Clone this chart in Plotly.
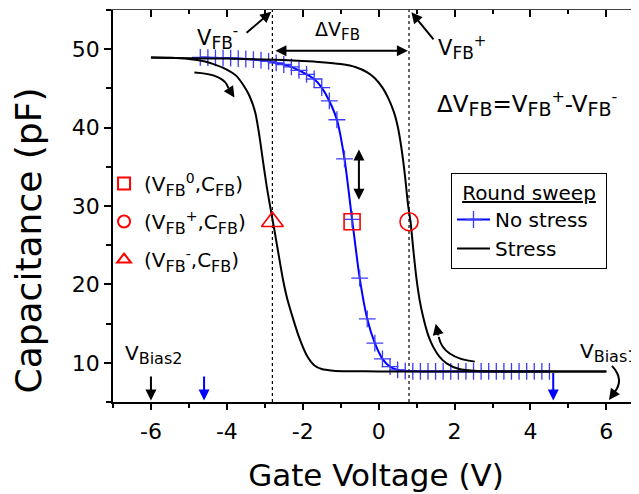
import plotly.graph_objects as go

# ---------------- data ----------------
BLUE_V = [-4.7, -4.5, -4.3, -4.1, -3.9, -3.7, -3.5, -3.3, -3.1, -2.9, -2.7, -2.5,
          -2.3, -2.1, -1.9, -1.7, -1.5, -1.3, -1.1, -0.9, -0.7, -0.5, -0.3, -0.1,
          0.1, 0.3, 0.5, 0.7, 0.9, 1.1, 1.3, 1.5, 1.7, 1.9, 2.1, 2.3, 2.5, 2.7, 2.9,
          3.1, 3.3, 3.5, 3.7, 3.9, 4.1, 4.3, 4.5]
BLUE_C = [48.95, 48.93, 48.9, 48.88, 48.85, 48.8, 48.75, 48.68, 48.6, 48.45, 48.25, 48.05,
          47.75, 47.3, 46.8, 46.2, 45.1, 43.4, 41.0, 36.0, 28.3, 20.8, 15.6, 12.5,
          10.5, 9.5, 9.1, 8.95, 8.92, 8.9, 8.9, 8.9, 8.9, 8.9, 8.9, 8.9, 8.9, 8.9, 8.9,
          8.9, 8.9, 8.9, 8.9, 8.9, 8.9, 8.9, 8.9]

STRESS_FWD_V = [-6.0, -5.5, -5.0, -4.6, -4.35, -4.0, -3.75, -3.55, -3.4, -3.25, -3.15, -3.05,
                -2.95, -2.85, -2.75, -2.65, -2.52, -2.4, -2.26, -2.1, -1.9, -1.7, -1.5, -1.2,
                -0.8, 0.0, 2.0, 4.0, 6.0]
STRESS_FWD_C = [48.95, 48.9, 48.75, 48.45, 48.1, 47.4, 46.6, 45.3, 44.0, 41.9, 39.2, 35.8,
                32.5, 29.7, 27.0, 24.2, 20.6, 18.0, 15.7, 13.3, 11.0, 9.7, 9.2, 9.0,
                8.93, 8.9, 8.9, 8.9, 8.9]

STRESS_REV_V = [-6.0, -5.0, -4.0, -3.0, -2.0, -1.5, -1.0, -0.6, -0.3, -0.1, 0.1, 0.25,
                0.4, 0.5, 0.6, 0.7, 0.77, 0.84, 0.92, 1.0, 1.08, 1.17, 1.3, 1.43,
                1.6, 1.8, 2.1, 2.6, 3.5, 6.0]
STRESS_REV_C = [48.95, 48.85, 48.8, 48.7, 48.5, 48.35, 48.1, 47.7, 47.05, 46.3, 45.1, 43.8,
                42.0, 40.2, 37.4, 33.6, 30.3, 28.0, 24.1, 20.6, 18.0, 15.9, 13.6, 12.1,
                10.8, 9.9, 9.25, 8.95, 8.9, 8.9]

VFB_MINUS = -2.8
VFB_PLUS = 0.8
VFB_ZERO = -0.7
C_FB = 28.0
V_BIAS1 = 6.0
V_BIAS2 = -6.0
V_BLUE_START = -4.6
V_BLUE_END = 4.6

X_TICKS = [-6, -4, -2, 0, 2, 4, 6]
X_TICK_LABELS = ["-6", "-4", "-2", "0", "2", "4", "6"]
X_MINOR = [-7, -5, -3, -1, 1, 3, 5]
Y_TICKS = [10, 20, 30, 40, 50]
Y_TICK_LABELS = ["10", "20", "30", "40", "50"]
Y_MINOR = [5, 15, 25, 35, 45, 55]
X_RANGE = [-7, 6.86]
Y_RANGE = [5, 55]

X_TITLE = "Gate Voltage (V)"
Y_TITLE = "Capacitance (pF)"

FONT = "DejaVu Sans"


def sub(s, px):
    return f"<sub><span style='font-size:{px}px'>{s}</span></sub>"


def sup(s, px):
    return f"<sup><span style='font-size:{px}px'>{s}</span></sup>"


fig = go.Figure()

fig.add_trace(go.Scatter(
    x=BLUE_V, y=BLUE_C, mode="lines+markers", name="No stress\u00a0\u00a0",
    line=dict(color="#0000ff", width=2, shape="spline", smoothing=0.6),
    marker=dict(symbol="cross-thin", size=12, line=dict(color="#3b3bff", width=1.3)),
    legend="legend"))
fig.add_trace(go.Scatter(
    x=STRESS_FWD_V, y=STRESS_FWD_C, mode="lines", name="Stress",
    line=dict(color="black", width=2, shape="spline", smoothing=0.6), legend="legend"))
fig.add_trace(go.Scatter(
    x=STRESS_REV_V, y=STRESS_REV_C, mode="lines", name="Stress (reverse)", showlegend=False,
    line=dict(color="black", width=2, shape="spline", smoothing=0.6)))

marker_items = [
    ("(V" + sub("FB", 16) + sup("0", 14) + ",C" + sub("FB", 16) + ")", VFB_ZERO, "square-open", 16),
    ("(V" + sub("FB", 16) + sup("+", 14) + ",C" + sub("FB", 16) + ")", VFB_PLUS, "circle-open", 18),
    ("(V" + sub("FB", 16) + sup("-", 14) + ",C" + sub("FB", 16) + ")", VFB_MINUS, "triangle-up-open", 19),
]
for name, xv, sym, size in marker_items:
    fig.add_trace(go.Scatter(
        x=[xv], y=[C_FB], mode="markers", name=name, legend="legend2", legendgroup=sym,
        marker=dict(symbol=sym, size=size, color="red", line=dict(color="red", width=1.6))))

# helper trace for mirrored inner ticks
fig.add_trace(go.Scatter(x=[], y=[], xaxis="x2", yaxis="y2", showlegend=False, hoverinfo="skip"))

# dotted flat-band lines
for v in (VFB_MINUS, VFB_PLUS):
    fig.add_shape(type="line", xref="x", yref="paper", x0=v, x1=v, y0=0, y1=1,
                  line=dict(color="black", width=1.2, dash="dot"), layer="below")


def arrow(x, y, ax, ay, color="black", side="end", size=1.1, width=2):
    return dict(x=x, y=y, ax=ax, ay=ay, xref="x", yref="y", axref="x", ayref="y",
                text="", showarrow=True, arrowhead=2, startarrowhead=2, arrowside=side,
                arrowsize=size, startarrowsize=size, arrowwidth=width, arrowcolor=color)


annotations = [
    arrow(-2.83, 54.78, -3.52, 51.93),
    arrow(0.863, 54.7, 1.478, 51.07),
    arrow(VFB_PLUS - 0.03, 49.8, VFB_MINUS + 0.04, 49.8, side="end+start"),
    arrow(-0.52, 30.8, -0.52, 37.4, side="end+start"),
    arrow(V_BIAS2, 5.2, V_BIAS2, 8.45, size=1.1),
    arrow(V_BLUE_START, 5.2, V_BLUE_START, 8.45, color="#0000ff", size=1.1),
    arrow(V_BLUE_END, 5.2, V_BLUE_END, 8.9, color="#0000ff", size=1.1),
    arrow(-3.80, 43.85, -3.958, 45.03),
    arrow(1.504, 14.97, 1.583, 13.31),
    arrow(6.069, 5.26, 6.201, 6.15),
]

texts = [
    ("V" + sub("FB", 17) + sup("-", 15), -4.25, 51.5, "center"),
    ("ΔV" + sub("FB", 15), -1.08, 52.3, "center"),
    ("V" + sub("FB", 17) + sup("+", 15), 2.19, 50.27, "center"),
    ("ΔV" + sub("FB", 19) + "=V" + sub("FB", 19) + sup("+", 16) + "-V" + sub("FB", 19) + sup("-", 16),
     3.9, 43.1, "center"),
    ("V" + sub("Bias2", 16), -5.94, 11.0, "center"),
    ("V" + sub("Bias1", 16), 5.25, 11.27, "left"),
]
text_sizes = [21, 19, 21, 23, 20, 20]
for (t, x, y, anc), fs in zip(texts, text_sizes):
    annotations.append(dict(x=x, y=y, xref="x", yref="y", text=t, showarrow=False,
                            xanchor=anc, yanchor="middle",
                            font=dict(family=FONT, size=fs, color="black")))

# y-axis title (placed off-centre, as in the original)
annotations.append(dict(x=-0.1616, y=0.412, xref="paper", yref="paper", text=Y_TITLE,
                        textangle=-90, showarrow=False, xanchor="center", yanchor="middle",
                        font=dict(family=FONT, size=36, color="black")))

# curved arrow shafts
shapes_paths = [
    "M -4.855,47.03 Q -4.06,46.82 -3.958,45.03",
    "M 2.533,10.15 Q 1.689,10.63 1.583,13.31",
    "M 6.148,9.60 Q 6.491,7.81 6.201,6.15",
]
for p in shapes_paths:
    fig.add_shape(type="path", xref="x", yref="y", path=p, line=dict(color="black", width=2))

axis_common = dict(showgrid=False, zeroline=False, showline=True, linecolor="black",
                   linewidth=1.7, tickcolor="black", tickwidth=1.5)
mirror_common = dict(showgrid=False, zeroline=False, showline=True, linecolor="#444444",
                     linewidth=1, tickcolor="black", tickwidth=1.5)

# the page body has an 8px margin, so the figure is sized to fill the rest of the window
fig.update_layout(
    width=631, height=486,
    margin=dict(l=105, r=0, t=2, b=92, autoexpand=False),
    paper_bgcolor="white", plot_bgcolor="white",
    font=dict(family=FONT, size=20, color="black"),
    xaxis=dict(range=X_RANGE, tickmode="array", tickvals=X_TICKS, ticktext=X_TICK_LABELS,
               ticks="outside", ticklen=6, tickfont=dict(size=22), ticklabelstandoff=3,
               minor=dict(tickmode="array", tickvals=X_MINOR, ticks="outside", ticklen=4,
                          tickwidth=1.5, tickcolor="black"),
               title=dict(text=X_TITLE, font=dict(size=31), standoff=21),
               automargin=False, **axis_common),
    yaxis=dict(range=Y_RANGE, tickmode="array", tickvals=Y_TICKS, ticktext=Y_TICK_LABELS,
               ticks="outside", ticklen=7, tickfont=dict(size=22),
               minor=dict(tickmode="array", tickvals=Y_MINOR, ticks="outside", ticklen=5,
                          tickwidth=1.5, tickcolor="black"),
               automargin=False, **axis_common),
    xaxis2=dict(range=X_RANGE, overlaying="x", side="top", anchor="y2", tickmode="array",
                tickvals=X_TICKS, ticks="inside", ticklen=7, showticklabels=False,
                minor=dict(tickmode="array", tickvals=X_MINOR, ticks="inside", ticklen=4,
                           tickwidth=1.5, tickcolor="black"),
                automargin=False, **mirror_common),
    yaxis2=dict(range=Y_RANGE, overlaying="y", side="right", anchor="x2", tickmode="array",
                tickvals=Y_TICKS, ticks="inside", ticklen=6, showticklabels=False,
                minor=dict(tickmode="array", tickvals=Y_MINOR, ticks="inside", ticklen=4,
                           tickwidth=1.5, tickcolor="black"),
                automargin=False, **mirror_common),
    legend=dict(x=0.6426, y=0.5842, xanchor="left", yanchor="top", itemwidth=33,
                bordercolor="black", borderwidth=1, bgcolor="white",
                font=dict(family=FONT, size=20, color="black"),
                title=dict(text="<u>Round sweep</u>", side="top center",
                           font=dict(family=FONT, size=20, color="black"))),
    legend2=dict(x=-0.017, y=0.607, xanchor="left", yanchor="top",
                 bgcolor="rgba(0,0,0,0)", borderwidth=0, itemsizing="constant",
                 tracegroupgap=9,
                 font=dict(family=FONT, size=20, color="black")),
    annotations=annotations,
    showlegend=True,
)

fig.write_html("out.html")
